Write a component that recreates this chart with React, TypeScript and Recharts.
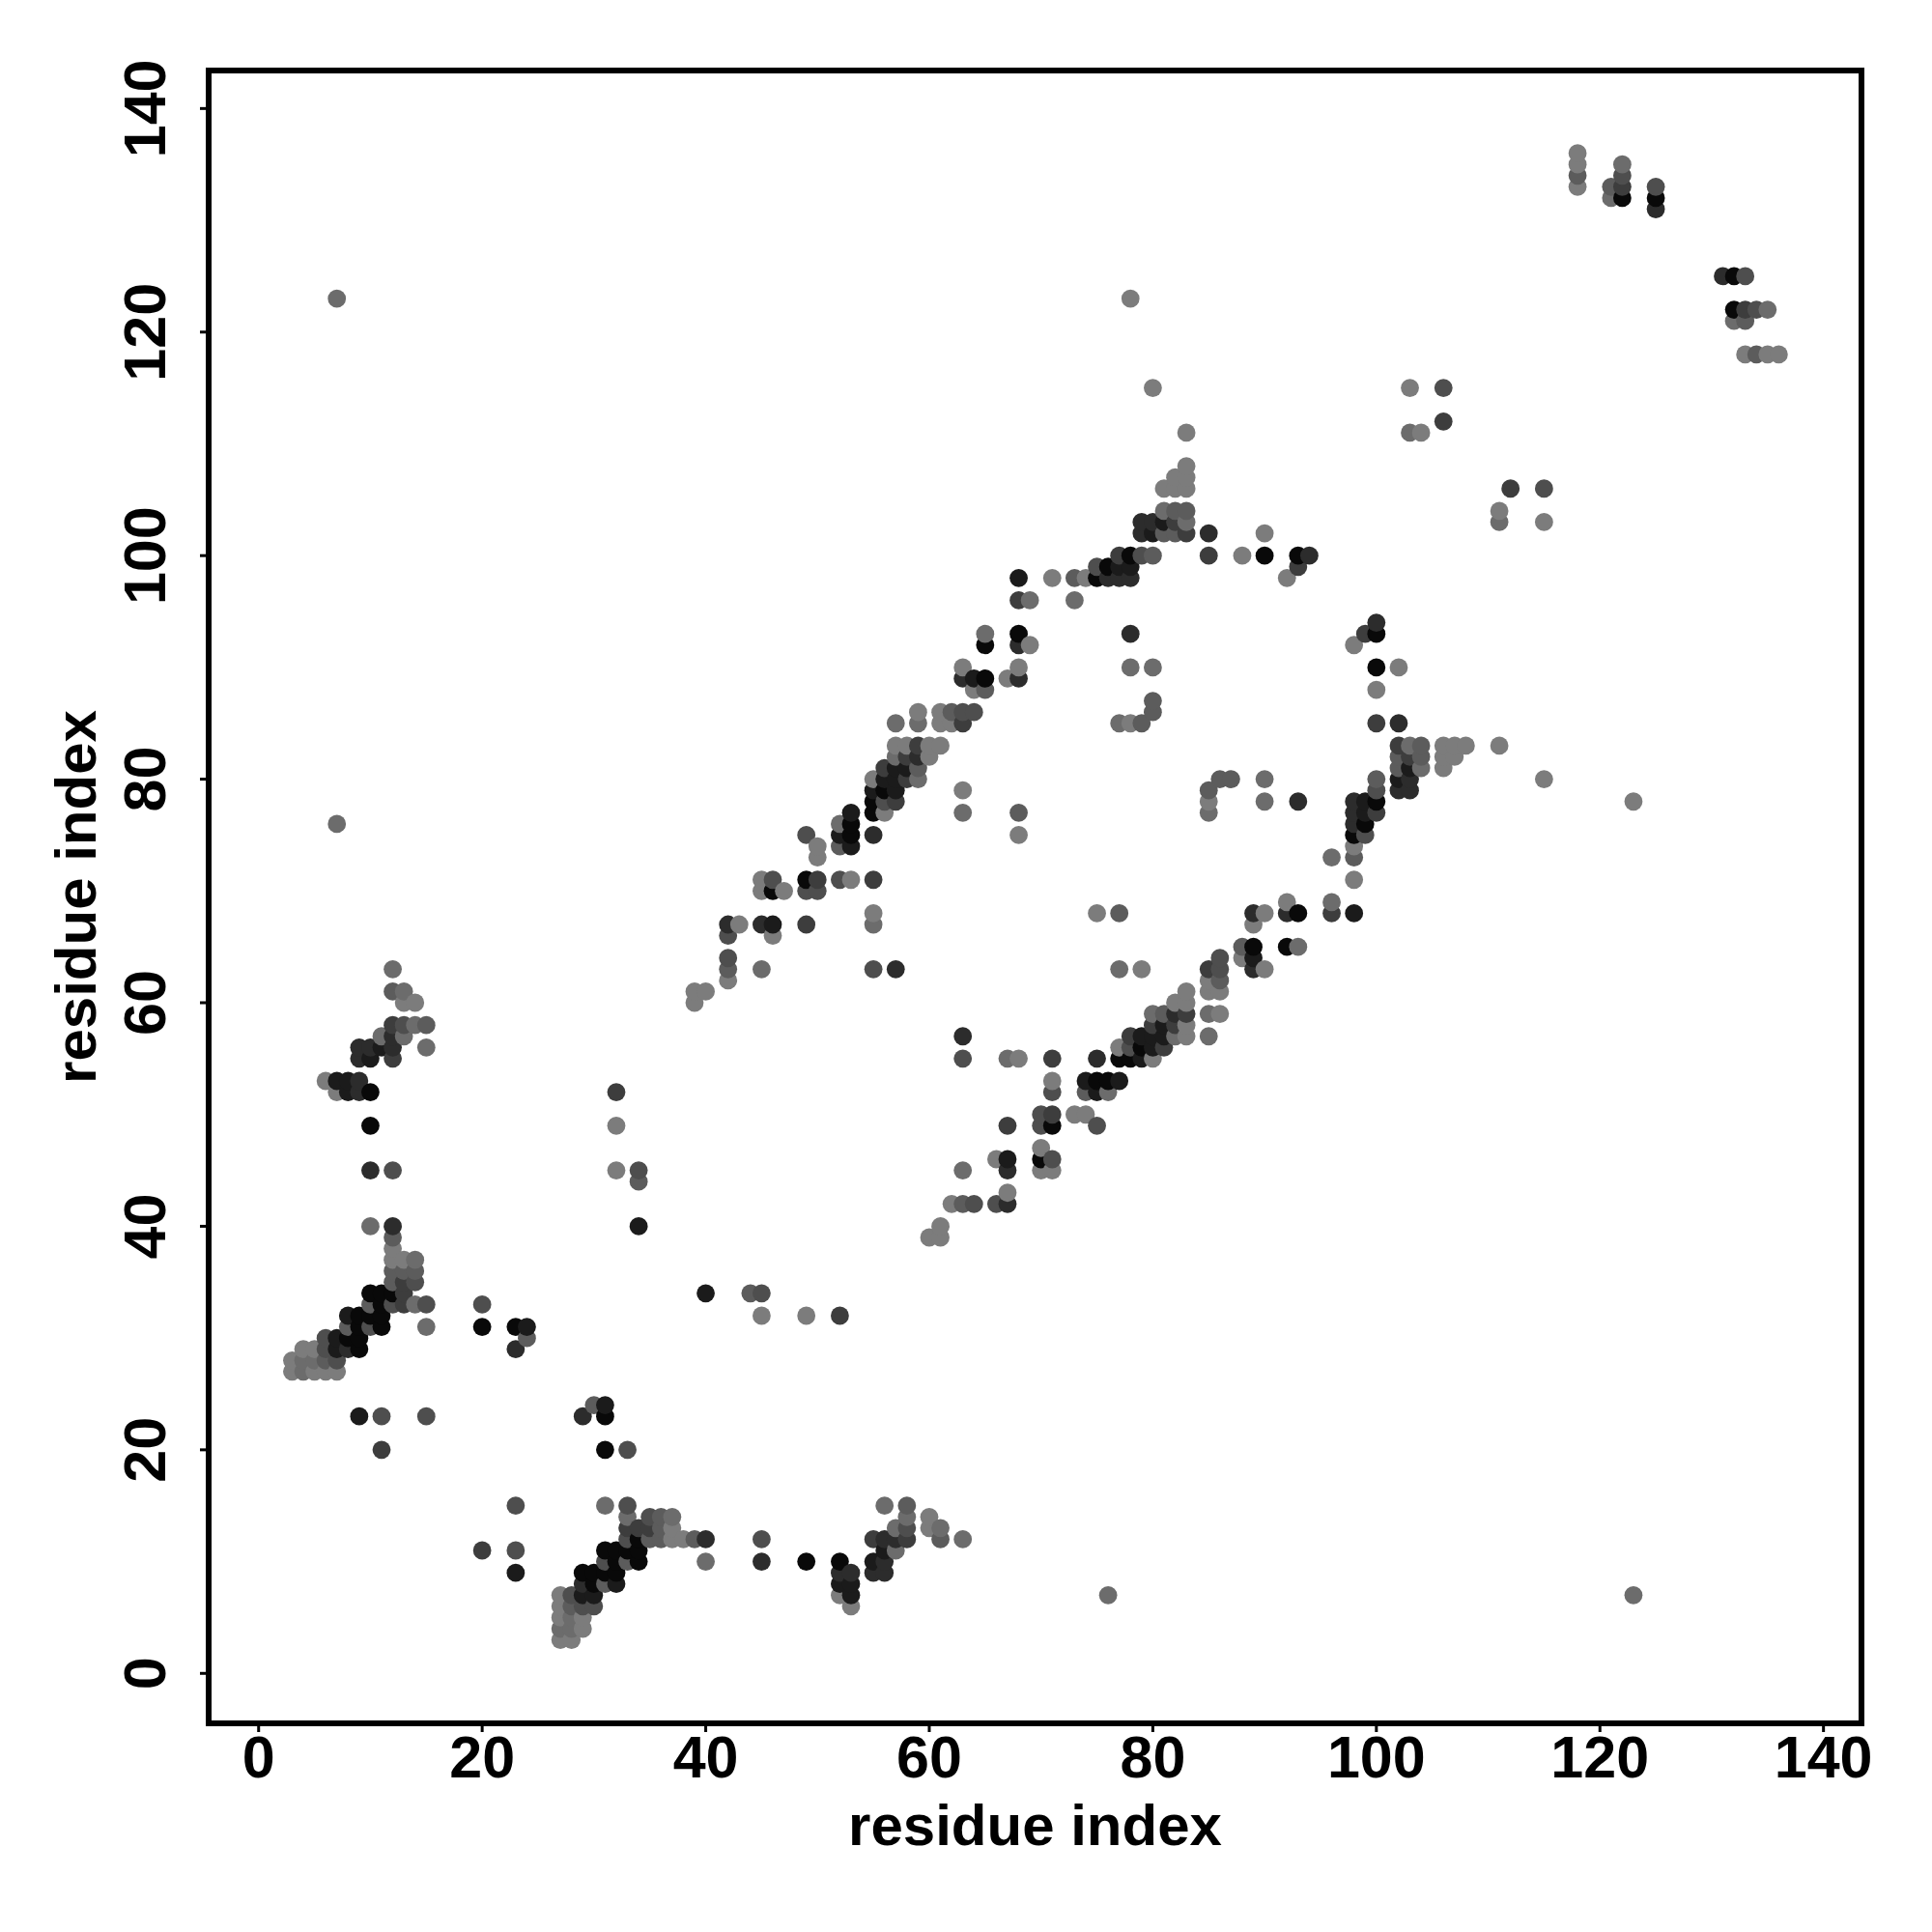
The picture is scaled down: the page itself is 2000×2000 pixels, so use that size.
import React from 'react';
import { ScatterChart, Scatter, XAxis, YAxis, ReferenceArea } from 'recharts';

// Contact pairs [i, j] with i < j, grouped by contact strength, darkest first.
// The map is symmetric so each pair is drawn at (i, j) and (j, i).
const strength0 = [
  [10, 52], [10, 49], [10, 34], [11, 34], [12, 34], [11, 33], [9, 32], [10, 32], [11, 32], [9, 31], [11, 31], [20, 31],
  [23, 31], [8, 30], [9, 30], [9, 29], [49, 71], [53, 75], [53, 76], [46, 70], [55, 77], [55, 78], [56, 79], [65, 89],
  [65, 92], [68, 93], [75, 98], [76, 99], [78, 100], [90, 100], [93, 100], [122, 132], [125, 132],
];
const strength1 = [
  [7, 53], [8, 53], [8, 52], [8, 32], [7, 29], [7, 30], [24, 31], [11, 56], [10, 55], [9, 23], [34, 40], [46, 67],
  [52, 75], [53, 74], [53, 77], [55, 79], [56, 80], [57, 79], [57, 80], [57, 81], [58, 81], [64, 89], [68, 98], [77, 99],
  [78, 99], [80, 102], [81, 103],
];
const strength2 = [
  [9, 56], [10, 56], [12, 56], [9, 55], [12, 57], [9, 53], [9, 52], [10, 45], [12, 40], [23, 29], [8, 29], [42, 67],
  [45, 67], [55, 75], [57, 63], [59, 82], [63, 89], [68, 89], [68, 92], [76, 98], [77, 98], [78, 98], [78, 93], [79, 102],
  [79, 103], [80, 103], [85, 102], [94, 100], [125, 131],
];
const strength3 = [
  [12, 55], [12, 58], [13, 33], [13, 34], [13, 35], [11, 20], [32, 52], [49, 67], [50, 71], [55, 71], [56, 81], [57, 78],
  [58, 80], [58, 82], [59, 83], [63, 85], [68, 96], [77, 100], [82, 103], [83, 102], [85, 100], [93, 99], [106, 112], [122, 133],
];
const strength4 = [
  [13, 58], [12, 45], [12, 33], [14, 35], [15, 33], [20, 33], [10, 31], [6, 30], [6, 29], [7, 28], [11, 23], [15, 23],
  [34, 45], [42, 64], [42, 66], [46, 71], [49, 70], [49, 75], [50, 70], [52, 71], [55, 63], [56, 78], [63, 86], [64, 86],
  [75, 99], [79, 100], [106, 115], [122, 134], [125, 133],
];
const strength5 = [
  [12, 61], [15, 58], [12, 36], [13, 36], [14, 36], [12, 35], [12, 39], [10, 33], [8, 31], [24, 30], [6, 28], [34, 44],
  [42, 63], [52, 74], [59, 81], [62, 86], [65, 88], [68, 77], [73, 98], [79, 85], [80, 86], [80, 87], [80, 100], [81, 102],
  [82, 102], [82, 104], [83, 104], [118, 134], [121, 133],
];
const strength6 = [
  [12, 63], [13, 61], [14, 58], [11, 57], [13, 57], [15, 56], [10, 40], [15, 31], [14, 33], [14, 37], [4, 28], [5, 28],
  [4, 27], [7, 76], [7, 123], [45, 63], [52, 76], [55, 67], [57, 82], [57, 85], [59, 80], [59, 85], [63, 77], [65, 93],
  [69, 96], [73, 96], [77, 85], [78, 90], [80, 90], [81, 104], [83, 103], [103, 111], [121, 132], [122, 135],
];
const strength7 = [
  [13, 60], [14, 60], [6, 53], [7, 52], [12, 38], [12, 37], [13, 37], [4, 29], [5, 29], [3, 28], [3, 27], [5, 27],
  [6, 27], [7, 27], [32, 49], [32, 45], [39, 60], [39, 61], [40, 61], [42, 62], [43, 67], [45, 70],
  [45, 71], [46, 66], [47, 70], [50, 73], [50, 74], [53, 71], [55, 68], [55, 80], [56, 77], [57, 83], [58, 83], [59, 86],
  [60, 82], [60, 83], [61, 83], [61, 85], [61, 86], [62, 85], [63, 79], [63, 90], [64, 88], [67, 89], [68, 75], [68, 90],
  [69, 92], [71, 98], [74, 98], [78, 85], [78, 123], [80, 115], [81, 106], [82, 106], [82, 107], [83, 106], [83, 107],
  [83, 108], [83, 111], [88, 100], [90, 102], [92, 98], [103, 115], [104, 111], [118, 133], [118, 135], [118, 136],
];

const strengths = [strength0, strength1, strength2, strength3, strength4, strength5, strength6, strength7];
const greys = ['#090909', '#1b1b1b', '#2c2c2c', '#3d3d3d', '#4e4e4e', '#5c5c5c', '#6c6c6c', '#7c7c7c'];
const tickValues = [0, 20, 40, 60, 80, 100, 120, 140];

const points = strengths
  .flatMap((pairs, level) =>
    pairs.flatMap(([i, j]) => [
      { x: i, y: j, level },
      { x: j, y: i, level },
    ])
  )
  .sort((a, b) => a.x - b.x || a.y - b.y);

const X_DOMAIN = [-4.47, 143.4];
const Y_DOMAIN = [-4.47, 143.4];
const FONT = '"Liberation Sans", Arial, sans-serif';

const Dot = ({ cx, cy, payload }: any) => <circle cx={cx} cy={cy} r={9.4} fill={greys[payload.level]} />;

const YTick = ({ x, y, payload }: any) => (
  <text
    x={x - 36}
    y={y}
    transform={`rotate(-90 ${x - 36} ${y})`}
    textAnchor="middle"
    fontFamily={FONT}
    fontWeight="bold"
    fontSize={61}
    fill="#000"
  >
    {payload.value}
  </text>
);

const XTick = ({ x, y, payload }: any) => (
  <text x={x} y={y + 44} textAnchor="middle" fontFamily={FONT} fontWeight="bold" fontSize={61} fill="#000">
    {payload.value}
  </text>
);

export default function App() {
  return (
    <div style={{ position: 'absolute', left: 0, top: 0, background: '#fff' }}>
      <ScatterChart width={2000} height={2000} margin={{ top: 73, right: 73, bottom: 116, left: 116 }}>
        <XAxis
          type="number"
          dataKey="x"
          domain={X_DOMAIN}
          ticks={tickValues}
          height={100}
          interval={0}
          allowDataOverflow
          axisLine={false}
          tickSize={9}
          tickMargin={3}
          tickLine={{ stroke: '#000', strokeWidth: 3 }}
          tick={<XTick />}
          label={{
            value: 'residue index',
            position: 'bottom',
            offset: -17,
            style: { fontFamily: FONT, fontWeight: 'bold', fontSize: 60, fill: '#000' },
          }}
        />
        <YAxis
          type="number"
          dataKey="y"
          domain={Y_DOMAIN}
          ticks={tickValues}
          width={100}
          interval={0}
          allowDataOverflow
          axisLine={false}
          tickSize={9}
          tickMargin={0}
          tickLine={{ stroke: '#000', strokeWidth: 3 }}
          tick={<YTick />}
          label={{
            value: 'residue index',
            angle: -90,
            position: 'left',
            offset: 38,
            style: { fontFamily: FONT, fontWeight: 'bold', fontSize: 60, fill: '#000', textAnchor: 'middle' },
          }}
        />
        <ReferenceArea
          x1={X_DOMAIN[0]}
          x2={X_DOMAIN[1]}
          y1={Y_DOMAIN[0]}
          y2={Y_DOMAIN[1]}
          fill="none"
          stroke="#000"
          strokeWidth={6}
          ifOverflow="visible"
        />
        <Scatter data={points} shape={<Dot />} isAnimationActive={false} />
      </ScatterChart>
    </div>
  );
}
